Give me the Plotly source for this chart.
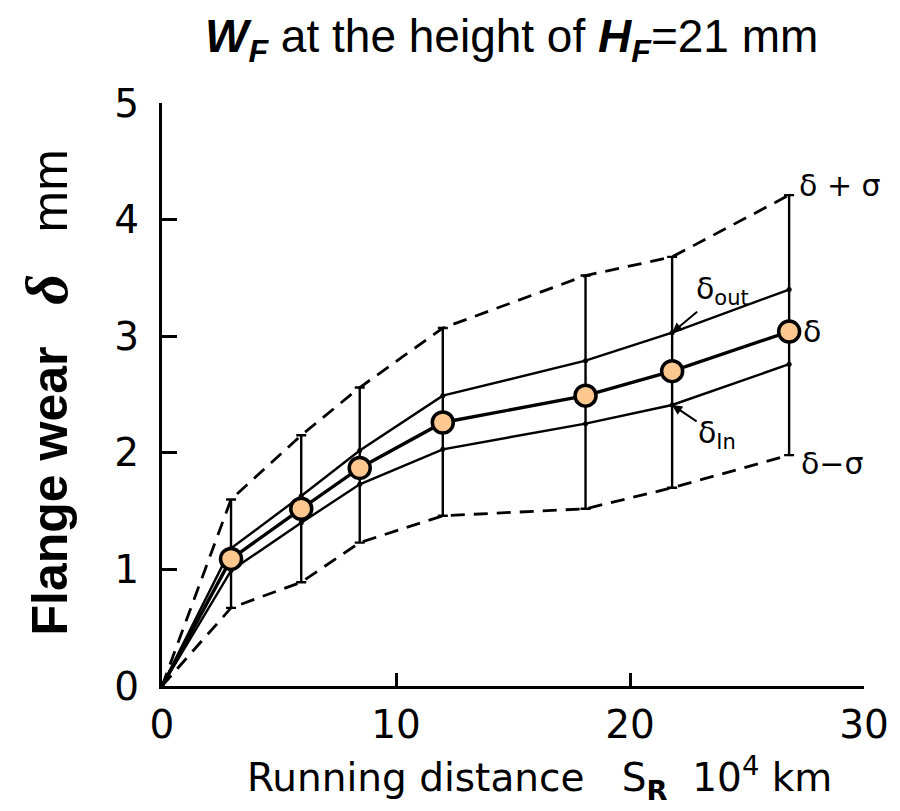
import plotly.graph_objects as go

# Running distance (10^4 km)
dist = [0, 2.95, 5.95, 8.45, 12.0, 18.1, 21.8, 26.8]
# Mean flange wear delta (mm)
delta = [0, 1.09, 1.52, 1.87, 2.26, 2.49, 2.70, 3.04]
# Outer and inner flange wear
delta_out = [0, 1.18, 1.63, 2.02, 2.49, 2.79, 3.03, 3.40]
delta_in = [0, 0.99, 1.40, 1.73, 2.03, 2.25, 2.41, 2.76]
# delta + sigma and delta - sigma
upper = [0, 1.60, 2.15, 2.56, 3.07, 3.52, 3.68, 4.21]
lower = [0, 0.67, 0.89, 1.23, 1.46, 1.52, 1.70, 1.98]

tick_font = dict(family="DejaVu Sans", size=39, color="black")

fig = go.Figure()

# envelopes
fig.add_trace(go.Scatter(x=dist, y=upper, mode="lines",
                         line=dict(color="black", width=2.8, dash="14px,9px")))
fig.add_trace(go.Scatter(x=dist, y=lower, mode="lines",
                         line=dict(color="black", width=2.8, dash="14px,9px")))

# error bars (vertical lines)
fig.add_trace(go.Scatter(
    x=dist[1:], y=delta[1:], mode="markers",
    marker=dict(size=1, color="rgba(0,0,0,0)"),
    error_y=dict(type="data", symmetric=False,
                 array=[u - d for u, d in zip(upper[1:], delta[1:])],
                 arrayminus=[d - l for l, d in zip(lower[1:], delta[1:])],
                 color="black", thickness=2.4, width=5)))

# outer / inner
fig.add_trace(go.Scatter(x=dist, y=delta_out, mode="lines+markers",
                         line=dict(color="black", width=2.4),
                         marker=dict(size=5, color="black")))
fig.add_trace(go.Scatter(x=dist, y=delta_in, mode="lines+markers",
                         line=dict(color="black", width=2.4),
                         marker=dict(size=5, color="black")))

# mean line
fig.add_trace(go.Scatter(x=dist, y=delta, mode="lines",
                         line=dict(color="black", width=3.4)))
fig.add_trace(go.Scatter(x=dist[1:], y=delta[1:], mode="markers",
                         marker=dict(size=21, color="#FCC890",
                                     line=dict(color="black", width=3.5))))

fig.update_layout(
    width=900, height=811,
    margin=dict(l=162, r=36, t=103, b=125),
    plot_bgcolor="white", paper_bgcolor="white",
    showlegend=False,
    font=dict(color="black"),
    xaxis=dict(range=[0, 30], showgrid=False, zeroline=False,
               showline=True, linecolor="black", linewidth=3,
               ticks="inside", ticklen=13, tickwidth=2.5, tickcolor="black",
               tickvals=[0, 10, 20, 30], tickfont=tick_font,
               ticklabelstandoff=2),
    yaxis=dict(range=[0, 5], showgrid=False, zeroline=False,
               showline=True, linecolor="black", linewidth=3,
               ticks="inside", ticklen=15, tickwidth=2.5, tickcolor="black",
               tickvals=[0, 1, 2, 3, 4, 5], tickfont=tick_font,
               ticklabelstandoff=12),
)

lab_font = dict(family="DejaVu Sans", size=30, color="black")
sub_font = dict(family="DejaVu Sans", size=30, color="black")
ann = [
    dict(x=26.8, y=4.21, text="δ + σ", xanchor="left", yanchor="middle",
         xshift=8, yshift=10, font=lab_font, showarrow=False),
    dict(x=26.8, y=3.04, text="δ", xanchor="left", yanchor="middle",
         xshift=12, font=lab_font, showarrow=False),
    dict(x=26.8, y=1.98, text="δ−σ", xanchor="left", yanchor="middle",
         xshift=10, yshift=-8, font=lab_font, showarrow=False),
    dict(x=21.8, y=3.03, text="δ<sub>out</sub>", showarrow=True,
         ax=50, ay=-42, arrowhead=2, arrowsize=1, arrowwidth=2,
         arrowcolor="black", font=sub_font),
    dict(x=21.8, y=2.41, text="δ<sub>In</sub>", showarrow=True,
         ax=45, ay=30, arrowhead=2, arrowsize=1, arrowwidth=2,
         arrowcolor="black", font=sub_font),
    # title
    dict(xref="paper", yref="paper", x=0.5, y=1, yshift=64, xshift=-2,
         xanchor="center", yanchor="middle", showarrow=False,
         text="<b><i>W</i></b><sub><b><i>F</i></b></sub> at the height of "
              "<b><i>H</i></b><sub><b><i>F</i></b></sub>=21 mm",
         font=dict(family="Liberation Sans", size=46, color="black")),
    # y title
    dict(xref="paper", yref="paper", x=0, y=0.5, xshift=-116, yshift=2,
         xanchor="center", yanchor="middle", textangle=-90, showarrow=False,
         text="<b>Flange wear</b>   <span style='font-family:Liberation Serif;font-size:60px'><i><b>δ</b></i></span>   mm",
         font=dict(family="Liberation Sans", size=50, color="black")),
    # x title
    dict(xref="paper", yref="paper", x=0.5, y=0, yshift=-62, xshift=26,
         xanchor="center", yanchor="top", showarrow=False,
         text="Running distance   S<sub><b>R</b></sub>  10<sup>4</sup> km",
         font=dict(family="DejaVu Sans", size=39, color="black")),
]
fig.update_layout(annotations=ann)

fig.write_html("out.html")
